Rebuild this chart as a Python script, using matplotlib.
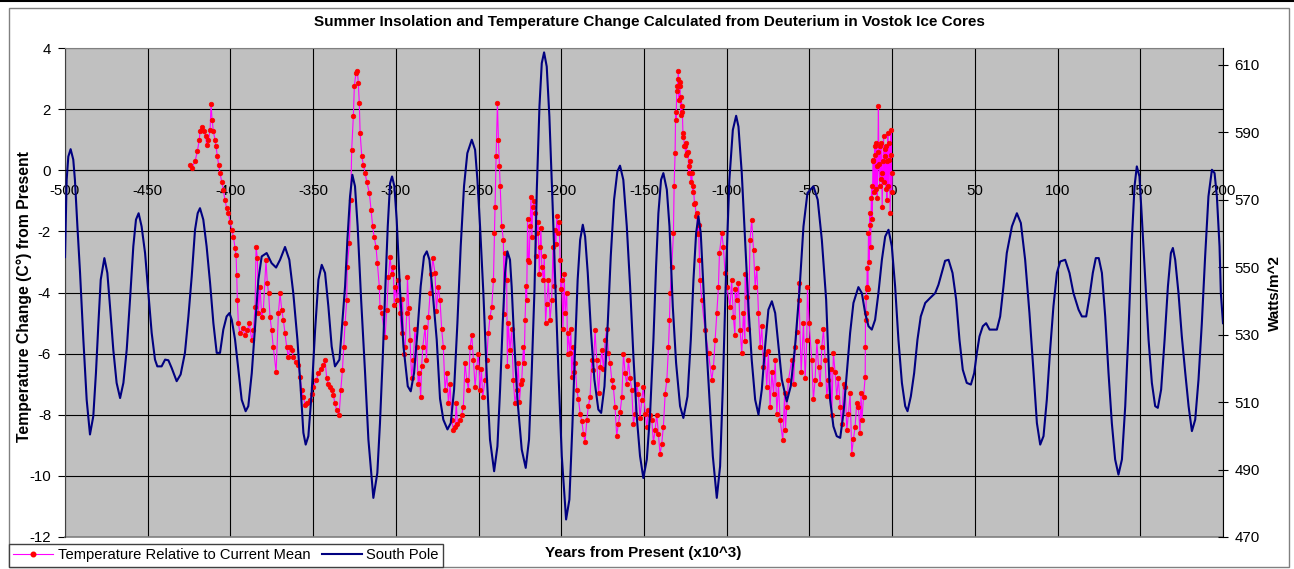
import matplotlib
matplotlib.use('Agg')
import matplotlib.pyplot as plt
from matplotlib.lines import Line2D
from matplotlib.patches import Rectangle

plt.rcParams['font.family'] = ['Liberation Sans', 'DejaVu Sans']
plt.rcParams['axes.unicode_minus'] = False

# South Pole summer insolation (W/m^2), years x10^3 from present
sp_years = [-500.0, -499.0, -498.0, -496.6, -495.0, -494.0, -492.5, -490.9, -488.9, -486.9,
            -484.9, -482.9, -481.3, -479.8, -478.4, -476.2, -474.4, -472.8, -470.8, -468.8,
            -466.7, -464.7, -462.7, -460.7, -458.7, -457.1, -455.5, -453.7, -451.6, -449.6,
            -447.6, -445.6, -444.2, -441.6, -439.5, -437.5, -435.5, -432.5, -430.1, -427.5,
            -425.4, -423.4, -421.4, -419.8, -418.4, -416.4, -414.4, -412.3, -410.3, -408.3,
            -406.3, -404.3, -402.3, -400.6, -399.2, -397.2, -395.2, -393.2, -390.8, -389.2,
            -387.1, -385.1, -383.1, -381.1, -378.1, -375.1, -372.4, -370.0, -367.0, -364.4,
            -362.0, -359.5, -357.5, -355.9, -354.5, -352.9, -350.9, -348.8, -346.8, -344.8,
            -342.8, -340.8, -338.8, -336.8, -334.1, -332.7, -330.7, -329.3, -327.7, -326.3,
            -324.7, -323.1, -321.0, -318.6, -316.6, -313.6, -311.2, -309.6, -307.9, -306.5,
            -304.9, -303.5, -302.3, -300.9, -299.5, -297.5, -295.4, -292.8, -291.0, -289.0,
            -287.0, -285.0, -283.0, -281.3, -279.7, -277.7, -275.3, -273.3, -271.3, -268.8,
            -266.8, -264.8, -262.8, -260.8, -258.8, -256.8, -254.1, -252.1, -250.7, -249.1,
            -247.1, -245.1, -243.1, -240.6, -238.6, -237.0, -235.4, -234.0, -232.6, -231.0,
            -230.0, -228.5, -226.5, -223.9, -221.5, -219.5, -217.9, -216.2, -214.8, -213.2,
            -211.8, -210.4, -208.8, -207.2, -205.2, -203.7, -201.7, -199.7, -197.1, -195.1,
            -193.3, -191.7, -190.1, -188.6, -187.0, -185.6, -184.0, -182.0, -180.0, -177.6,
            -175.9, -173.9, -171.9, -170.1, -168.1, -166.1, -164.5, -162.5, -160.4, -158.4,
            -156.4, -154.4, -152.4, -150.4, -148.3, -146.3, -144.3, -142.7, -141.3, -139.7,
            -138.3, -136.2, -134.6, -132.6, -130.6, -128.2, -126.2, -123.7, -121.7, -120.1,
            -118.5, -117.1, -115.7, -114.5, -112.5, -110.4, -108.4, -106.0, -104.0, -102.4,
            -100.4, -98.4, -96.3, -94.3, -92.9, -90.9, -88.9, -86.9, -84.9, -82.8,
            -80.8, -78.8, -76.8, -74.8, -72.7, -70.7, -68.7, -66.7, -63.7, -61.3,
            -58.7, -56.0, -53.6, -51.2, -47.6, -45.0, -42.5, -39.9, -37.5, -35.5,
            -33.5, -31.4, -29.4, -27.4, -25.4, -23.4, -20.4, -18.3, -16.3, -14.3,
            -12.3, -10.3, -8.3, -6.2, -4.2, -2.2, -0.2, 1.8, 3.8, 5.9,
            7.9, 9.3, 11.3, 13.3, 15.3, 17.3, 20.0, 23.0, 26.0, 28.0,
            30.0, 32.0, 34.1, 36.5, 38.7, 40.7, 42.7, 45.1, 47.6, 49.6,
            51.2, 52.8, 54.8, 56.8, 58.9, 61.3, 63.3, 65.3, 67.3, 69.3,
            72.4, 75.4, 77.8, 80.4, 83.0, 85.5, 87.5, 89.5, 91.5, 93.5,
            95.5, 97.5, 99.6, 101.6, 104.6, 107.2, 109.6, 112.7, 114.7, 117.3,
            119.3, 121.3, 123.1, 124.9, 126.8, 128.8, 130.8, 132.8, 134.8, 136.8,
            138.9, 140.9, 142.9, 144.9, 146.5, 147.9, 149.5, 150.9, 153.0, 155.0,
            157.0, 159.0, 160.6, 162.6, 164.7, 166.7, 168.5, 169.7, 171.1, 173.1,
            175.1, 177.2, 179.2, 181.2, 183.2, 185.2, 187.2, 189.2, 191.2, 193.3,
            194.9, 196.3, 197.9, 198.7, 200.0]
sp_watts = [553.0, 575.9, 582.8, 585.0, 581.9, 575.9, 562.1, 548.3, 528.5, 510.7,
            500.4, 505.8, 518.6, 533.4, 546.3, 552.7, 548.3, 538.4, 525.5, 515.7,
            511.2, 515.7, 525.5, 540.4, 556.2, 564.1, 566.0, 562.1, 554.2, 542.3,
            530.5, 522.6, 520.6, 520.6, 522.6, 522.4, 520.1, 516.2, 518.2, 524.6,
            535.4, 547.3, 561.1, 566.0, 567.5, 564.1, 556.2, 545.3, 533.4, 524.6,
            524.6, 531.5, 535.4, 536.4, 534.4, 528.5, 519.6, 510.7, 507.3, 508.8,
            518.6, 532.5, 546.3, 553.2, 554.2, 551.2, 549.9, 552.2, 556.0, 552.2,
            542.3, 528.5, 513.7, 500.9, 497.4, 499.9, 512.7, 531.5, 546.3, 550.7,
            548.3, 538.4, 526.5, 520.6, 522.6, 531.5, 544.3, 558.1, 571.0, 577.4,
            574.0, 562.1, 540.4, 518.6, 498.9, 481.6, 489.0, 503.8, 523.6, 542.3,
            562.1, 574.9, 576.9, 574.0, 564.1, 543.3, 526.5, 514.7, 513.2, 518.6,
            530.5, 544.3, 553.2, 554.7, 552.2, 542.3, 528.5, 511.0, 504.8, 501.9,
            503.8, 513.7, 533.4, 556.2, 574.0, 583.8, 587.8, 584.8, 575.9, 562.1,
            542.3, 518.6, 498.9, 489.5, 496.9, 513.7, 533.4, 548.3, 554.7, 552.2,
            544.3, 528.5, 510.7, 495.9, 490.5, 498.9, 518.6, 543.3, 573.0, 597.7,
            610.5, 613.7, 609.5, 594.7, 568.0, 546.3, 518.6, 494.0, 475.2, 481.1,
            502.8, 525.5, 546.3, 558.1, 562.6, 559.1, 548.3, 530.5, 516.7, 507.8,
            506.8, 514.7, 533.4, 553.2, 570.0, 578.4, 580.1, 575.9, 562.1, 544.3,
            523.6, 505.8, 494.0, 487.5, 493.0, 506.8, 528.5, 550.2, 566.0, 575.9,
            577.9, 573.0, 562.1, 538.4, 521.6, 508.8, 505.3, 511.7, 528.5, 546.3,
            560.1, 565.1, 560.1, 548.3, 528.5, 510.7, 494.0, 481.6, 491.0, 513.7,
            548.3, 575.9, 590.7, 594.9, 591.7, 577.9, 558.1, 538.4, 522.6, 510.7,
            506.3, 513.7, 526.5, 537.4, 539.9, 536.4, 526.5, 516.7, 510.2, 514.7,
            526.5, 543.3, 562.1, 572.0, 574.0, 570.0, 558.1, 540.4, 510.7, 502.8,
            499.9, 499.4, 506.8, 518.6, 530.5, 539.4, 544.1, 542.3, 536.4, 532.5,
            531.5, 534.4, 542.3, 552.2, 559.1, 561.1, 556.2, 544.3, 528.5, 515.7,
            508.8, 507.3, 511.7, 518.6, 528.5, 535.4, 539.4, 540.9, 542.3, 544.8,
            548.3, 551.9, 552.2, 548.3, 540.4, 528.5, 519.6, 515.7, 515.2, 518.6,
            524.6, 529.5, 532.5, 533.4, 531.5, 531.5, 531.5, 535.4, 544.3, 554.2,
            562.1, 566.0, 563.1, 552.2, 536.4, 518.6, 503.8, 497.4, 499.9, 510.7,
            525.5, 538.4, 548.3, 551.7, 552.2, 548.3, 542.3, 537.4, 535.4, 535.4,
            541.3, 548.3, 552.7, 552.7, 548.3, 535.4, 518.6, 503.8, 493.0, 488.5,
            493.0, 508.8, 531.5, 558.1, 573.9, 579.9, 576.9, 565.1, 546.3, 528.5,
            515.7, 508.8, 508.3, 513.7, 528.5, 544.3, 554.2, 555.7, 552.2, 542.3,
            529.5, 518.6, 508.8, 501.4, 504.8, 516.7, 533.4, 553.2, 571.0, 578.9,
            577.9, 571.0, 556.2, 542.3, 533.4]

# Vostok deuterium temperature relative to current mean (C)
temp_years = [-424.4, -423.4, -421.4, -420.0, -418.8, -418.4, -417.4, -416.0, -415.0, -414.4,
              -413.3, -412.3, -411.7, -411.1, -410.3, -409.3, -408.7, -407.9, -407.1, -406.3,
              -405.3, -404.3, -403.3, -402.3, -401.3, -400.2, -399.2, -398.2, -397.2, -396.6,
              -396.2, -395.8, -395.2, -394.2, -392.6, -391.2, -389.8, -388.6, -387.1, -386.1,
              -385.1, -384.5, -383.7, -383.1, -382.1, -381.1, -380.1, -378.5, -377.7, -376.9,
              -376.1, -375.1, -374.1, -372.4, -371.0, -370.0, -369.0, -368.0, -367.0, -366.0,
              -365.0, -364.0, -363.0, -362.0, -360.6, -359.0, -357.9, -356.9, -355.9, -354.9,
              -353.9, -351.9, -350.9, -349.9, -348.2, -346.8, -345.4, -343.8, -342.8, -341.8,
              -340.8, -339.8, -338.8, -337.8, -336.8, -335.8, -334.3, -333.3, -332.3, -331.5,
              -330.7, -329.7, -329.4, -328.1, -327.3, -326.7, -325.7, -325.1, -324.1, -323.3,
              -322.7, -322.1, -321.6, -320.6, -319.6, -318.6, -317.6, -316.0, -315.0, -314.0,
              -313.2, -312.0, -311.2, -310.0, -309.6, -308.6, -306.5, -305.5, -304.5, -303.5,
              -301.5, -300.5, -299.5, -297.5, -296.5, -294.4, -293.4, -293.0, -291.4, -289.4,
              -287.4, -285.8, -285.0, -283.7, -282.3, -280.3, -279.3, -277.7, -276.3, -274.3,
              -273.3, -271.3, -269.2, -268.2, -266.2, -264.2, -262.8, -261.2, -259.2, -257.1,
              -255.1, -253.1, -251.1, -249.1, -247.5, -246.1, -244.1, -242.0, -241.0, -240.4,
              -240.0, -239.4, -238.6, -238.0, -237.4, -237.0, -236.0, -235.0, -234.0, -233.0,
              -232.0, -231.0, -229.0, -226.9, -225.3, -223.9, -222.9, -221.9, -220.9, -219.9,
              -218.9, -218.3, -217.3, -215.8, -214.8, -212.8, -211.8, -210.8, -208.8, -206.8,
              -205.8, -203.8, -202.7, -201.7, -200.7, -199.7, -197.7, -195.7, -194.7, -193.7,
              -192.7, -190.6, -188.6, -186.6, -184.6, -182.6, -180.6, -179.6, -178.6, -176.5,
              -175.5, -173.5, -171.5, -169.5, -167.5, -165.5, -163.4, -161.4, -159.4, -157.4,
              -155.4, -153.4, -151.4, -149.3, -147.3, -145.3, -143.3, -141.3, -139.3, -138.3,
              -137.2, -136.2, -135.2, -134.6, -134.2, -133.2, -132.2, -131.8, -131.2, -130.6,
              -129.8, -129.2, -128.2, -127.2, -126.2, -125.2, -124.2, -122.5, -121.1, -120.1,
              -119.1, -118.1, -117.1, -116.5, -116.1, -115.1, -113.1, -111.0, -109.0, -108.0,
              -107.0, -106.0, -105.0, -104.4, -103.0, -102.0, -101.0, -100.0, -98.0, -96.0,
              -93.9, -91.9, -90.9, -89.9, -87.9, -85.9, -84.9, -83.8, -82.8, -80.8,
              -79.8, -77.8, -75.8, -73.8, -71.7, -69.7, -67.7, -66.1, -63.7, -62.7,
              -60.7, -58.6, -56.6, -56.5, -53.6, -51.6, -51.2, -48.6, -46.6, -44.5,
              -42.5, -40.5, -38.5, -35.5, -33.5, -31.4, -28.4, -26.4, -24.4, -22.4,
              -20.4, -18.3, -17.3, -16.3, -16.2, -16.1, -15.7, -15.3, -14.3, -13.3,
              -12.3, -11.3, -10.3, -9.3, -8.3, -7.3, -6.3, -5.2, -4.2, -3.2,
              -2.6, -1.6, -1.2, -0.6, 0.0]
temp_vals = [0.18, 0.07, 0.29, 0.62, 1.00, 1.27, 1.40, 1.27, 1.11, 0.84,
             1.00, 1.31, 2.17, 1.66, 1.27, 1.00, 0.78, 0.45, 0.18, -0.09,
             -0.37, -0.64, -0.97, -1.24, -1.40, -1.68, -1.95, -2.17, -2.55, -2.77,
             -3.43, -4.25, -5.01, -5.34, -5.17, -5.39, -5.23, -5.01, -5.56, -5.23,
             -4.46, -2.50, -2.88, -4.68, -3.81, -4.79, -4.57, -2.93, -3.70, -4.03,
             -4.79, -5.23, -5.78, -6.60, -4.68, -4.03, -4.57, -4.90, -5.34, -5.78,
             -6.10, -5.78, -5.89, -6.10, -6.27, -6.38, -6.76, -7.20, -7.42, -7.69,
             -7.63, -7.52, -7.31, -7.09, -6.87, -6.65, -6.49, -6.38, -6.21, -6.81,
             -6.98, -7.09, -7.20, -7.36, -7.63, -7.85, -8.02, -7.20, -6.54, -5.78,
             -5.01, -4.25, -3.15, -2.39, -0.97, 0.67, 1.76, 2.75, 3.19, 3.24,
             2.86, 2.20, 1.22, 0.45, 0.18, -0.09, -0.37, -0.75, -1.30, -1.84,
             -2.17, -2.50, -3.04, -3.81, -4.46, -4.68, -5.45, -4.57, -3.50, -2.83,
             -3.15, -3.81, -4.25, -4.68, -5.34, -5.78, -4.68, -3.48, -5.56, -6.21,
             -5.78, -6.65, -7.42, -5.78, -5.12, -4.79, -4.03, -2.88, -3.37, -3.81,
             -4.25, -5.78, -6.65, -7.63, -8.18, -8.40, -8.29, -8.18, -7.74, -6.87,
             -5.78, -6.21, -6.43, -7.20, -7.42, -6.87, -5.34, -4.46, -3.59, -2.06,
             -1.19, 0.45, 2.20, 1.00, 0.13, -0.53, -1.84, -2.28, -2.72, -3.59,
             -5.01, -5.89, -6.87, -7.20, -7.58, -6.87, -5.78, -4.90, -4.25, -2.93,
             -1.84, -0.86, -1.19, -1.40, -2.06, -2.50, -3.15, -3.59, -4.36, -4.90,
             -4.25, -1.95, -1.51, -2.06, -2.93, -3.59, -4.68, -5.34, -5.99, -6.76,
             -5.78, -7.20, -7.96, -8.62, -8.18, -7.42, -6.54, -5.23, -6.21, -6.43,
             -5.89, -5.56, -5.99, -6.87, -7.74, -8.29, -7.42, -6.65, -6.21, -7.20,
             -7.96, -7.31, -7.52, -7.96, -7.85, -8.18, -8.51, -8.62, -8.95, -8.40,
             -7.31, -6.87, -5.78, -4.90, -4.03, -3.15, -2.06, -0.53, 0.56, 1.66,
             2.75, 3.24, 2.75, 2.09, 1.22, 0.78, 0.56, 0.13, -0.09, -0.53,
             -1.08, -1.40, -2.06, -2.93, -3.59, -4.25, -5.23, -5.99, -6.87, -6.43,
             -5.56, -4.68, -3.81, -2.72, -2.06, -2.50, -3.37, -3.81, -4.46, -4.79,
             -4.25, -5.23, -5.99, -4.68, -4.14, -2.28, -1.62, -2.61, -3.81, -4.68,
             -5.78, -6.43, -7.09, -7.74, -7.31, -7.96, -8.18, -8.84, -7.74, -6.87,
             -6.21, -5.78, -4.25, -3.70, -5.01, -5.56, -3.81, -6.21, -6.87, -6.43,
             -5.78, -6.21, -6.87, -5.99, -7.42, -7.74, -7.09, -7.96, -9.27, -8.40,
             -7.74, -8.18, -7.42, -6.76, -5.78, -4.68, -4.14, -3.81, -2.06, -1.40,
             -0.53, 0.34, 0.78, 0.13, 2.09, 0.78, -0.09, 1.11, 0.45, -0.97,
             1.22, 0.34, -1.40, 1.33, -0.09]

# extra samples inside the densest bands of the core record
band_years = [-302.5, -301.0, -298.5, -296.0, -295.0, -292.2, -290.5, -288.5, -286.5, -284.4,
              -281.5, -278.5, -275.5, -272.3, -270.3, -267.2, -265.2, -263.5, -260.2, -258.2,
              -256.1, -254.1, -252.1, -250.1, -248.3, -245.1, -243.1,
              -234.6, -232.6, -230.0, -228.0, -226.0, -224.5, -222.4, -221.3, -220.4, -219.4,
              -217.8, -216.5, -215.3, -214.0, -213.3, -212.3, -210.3, -209.5, -207.8, -205.0,
              -204.3, -203.3, -201.2, -200.2, -199.0, -198.2, -196.2, -194.2, -192.2,
              -196.7, -191.6, -189.6, -187.6, -185.6, -183.6, -181.6, -177.5, -174.5, -172.5,
              -170.5, -168.5, -166.5, -164.4, -162.4, -160.4, -158.4, -156.4, -154.4, -152.4,
              -150.4, -148.3, -146.3, -144.3, -142.3, -140.3,
              -130.9, -130.2, -129.5, -128.9, -128.5, -127.8, -127.4, -126.8, -126.4, -125.6,
              -124.8, -124.4, -123.4, -122.8, -122.2, -121.6, -120.5, -119.5, -118.5, -117.5,
              -117.0,
              -97.0, -95.0, -94.9, -92.9, -89.0, -88.9, -86.9, -81.8, -78.8, -76.8,
              -74.8, -72.7, -70.7, -68.7, -65.0, -64.5,
              -59.6, -57.6, -55.0, -52.6, -50.2, -47.6, -45.5, -43.5, -41.5, -39.5,
              -37.0, -36.5,
              -34.5, -32.5, -30.4, -29.4, -27.4, -25.4, -23.4, -21.4, -19.4, -18.8,
              -15.9, -15.5, -15.0, -14.7, -14.0, -13.6, -13.0, -12.6, -12.0, -11.6,
              -11.0, -10.6, -10.0, -9.6, -9.0, -8.6, -8.0, -7.6, -7.0, -6.6,
              -6.0, -5.6, -4.9, -4.6, -3.9, -3.6, -2.9, -2.3, -2.0, -0.9,
              -0.3]
band_vals = [-3.4, -4.4, -3.6, -4.2, -6.0, -4.5, -6.8, -5.2, -7.0, -6.4,
             -6.2, -3.4, -4.6, -5.2, -7.2, -7.0, -8.5, -7.6, -8.0, -6.3,
             -7.2, -5.4, -7.1, -6.0, -6.5, -6.2, -4.8,
             -4.7, -6.4, -5.2, -7.6, -6.3, -7.0, -6.3, -3.8, -1.6, -3.0,
             -2.2, -1.0, -2.8, -1.7, -3.4, -1.9, -2.8, -5.0, -3.6, -2.5,
             -3.8, -2.4, -1.7, -3.9, -5.2, -3.4, -6.0, -5.2, -6.6,
             -4.0, -6.3, -7.5, -8.2, -8.9, -7.7, -6.2, -7.3, -6.5, -5.2,
             -6.3, -7.1, -8.7, -7.9, -6.0, -7.0, -6.8, -8.3, -7.0, -8.1,
             -7.1, -8.4, -8.0, -8.9, -8.0, -9.3,
             1.9, 2.6, 3.0, 2.3, 2.9, 1.8, 2.4, 1.9, 1.1, 0.8,
             0.5, 0.9, 0.6, -0.1, 0.3, -0.4, -0.7, -1.1, -1.5, -2.1,
             -1.8,
             -3.6, -5.4, -3.9, -3.7, -5.6, -3.4, -5.2, -3.2, -5.1, -6.0,
             -5.9, -6.6, -6.2, -7.0, -7.3, -8.5,
             -7.0, -5.3, -6.6, -6.8, -5.0, -7.5, -5.6, -7.0, -5.2, -7.4,
             -6.5, -8.0,
             -6.6, -6.8, -8.3, -7.0, -8.5, -7.3, -8.8, -7.6, -8.6, -7.3,
             -4.9, -3.9, -3.2, -3.9, -3.0, -1.8, -2.5, -0.9, -1.6, 0.3,
             -0.7, 0.5, -0.6, 0.9, -0.9, 0.6, 0.2, -0.5, -0.3, 0.9,
             -1.2, 0.3, -0.4, 0.7, -0.6, 0.8, 0.3, -0.5, 0.9, 0.5,
             -0.7]

x_ticks = list(range(-500, 201, 50))
left_ticks = list(range(-12, 5, 2))
right_ticks = list(range(470, 611, 20))

# merge the band samples into the record in time order
record = sorted(zip(temp_years + band_years, temp_vals + band_vals), key=lambda p: p[0])
rec_x = [p[0] for p in record]
rec_y = [p[1] for p in record]

W, H = 1294, 569
fig = plt.figure(figsize=(W / 100, H / 100), dpi=100)

# outer chart frame + top screen edge
fig.add_artist(Rectangle((8.5 / W, 2.5 / H), 1280 / W, 558.5 / H, transform=fig.transFigure,
                         fill=False, edgecolor='#808080', lw=1))
fig.add_artist(Line2D([0, 1], [1 - 1 / H, 1 - 1 / H], transform=fig.transFigure, color='black', lw=1.5))

ax = fig.add_axes([65 / W, 1 - 537 / H, (1223 - 65) / W, (537 - 48) / H])
ax.set_facecolor('#C0C0C0')
ax.set_xlim(-500, 200)
ax.set_ylim(-12, 4)
ax.set_xticks(x_ticks)
ax.set_yticks(left_ticks)
ax.set_axisbelow(True)
ax.grid(True, color='black', lw=0.8)
ax.plot(rec_x, rec_y, color='#FF00FF', lw=0.8, marker='o', ms=3.3,
        mfc='#FF0000', mec='#FF0000', mew=0.5, zorder=3)

ax.spines['bottom'].set_position(('data', 0))
ax.spines['bottom'].set_color('black')
ax.spines['bottom'].set_linewidth(0.8)
ax.spines['top'].set_color('#808080')
ax.spines['left'].set_color('#404040')
ax.spines['right'].set_visible(False)
ax.axhline(-12, color='#808080', lw=1.2, clip_on=False)
ax.tick_params(axis='x', length=0, pad=10, labelsize=10.8)
ax.tick_params(axis='y', direction='out', length=5, width=0.8, pad=5, labelsize=10.8)

ax2 = ax.twinx()
ax2.set_ylim(470, 615)
ax2.set_yticks(right_ticks)
ax2.plot(sp_years, sp_watts, color='#000080', lw=1.5)
for s in ['left', 'top', 'bottom']:
    ax2.spines[s].set_visible(False)
ax2.spines['right'].set_color('black')
ax2.tick_params(axis='y', direction='inout', length=6.5, width=0.8, pad=5, labelsize=10.8)

fig.text(649 / W, 1 - 22 / H, 'Summer Insolation and Temperature Change Calculated from Deuterium in Vostok Ice Cores',
         ha='center', va='center', fontsize=11, weight='bold')
fig.text(24.5 / W, 1 - 297 / H, 'Temperature Change (C°) from Present', rotation=90,
         ha='center', va='center', fontsize=11.3, weight='bold')
fig.text(1275 / W, 1 - 293 / H, 'Watts/m^2', rotation=90, ha='center', va='center',
         fontsize=11, weight='bold')
fig.text(643 / W, 1 - 553 / H, 'Years from Present (x10^3)', ha='center', va='center',
         fontsize=11, weight='bold')

handles = [Line2D([], [], color='#FF00FF', lw=0.8, marker='o', ms=3.3, mfc='#FF0000', mec='#FF0000'),
           Line2D([], [], color='#000080', lw=1.5)]
fig.legend(handles, ['Temperature Relative to Current Mean', 'South Pole'], ncol=2,
           loc='lower left', bbox_to_anchor=(9 / W, 2.5 / H), fontsize=10.6, frameon=True,
           fancybox=False, edgecolor='#404040', framealpha=1, borderpad=0.3,
           handlelength=2.7, handletextpad=0.3, columnspacing=0.8, borderaxespad=0)

fig.savefig('out.png', dpi=100)
